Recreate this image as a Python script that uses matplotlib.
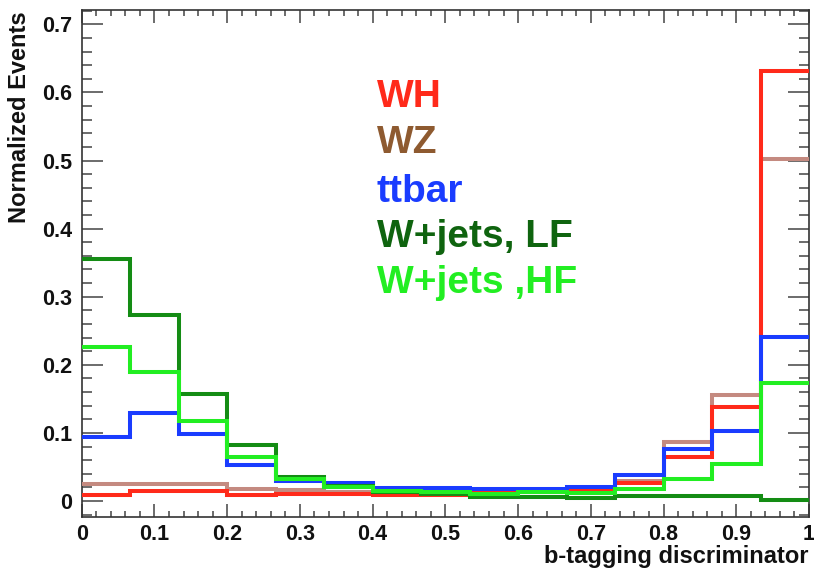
import numpy as np
import matplotlib
matplotlib.use("Agg")
import matplotlib.pyplot as plt
from matplotlib.ticker import MultipleLocator, FuncFormatter

# ---- data (15 bins of the b-tagging discriminator, 0..1) ----
bin_lo, bin_hi, n_bins = 0.0, 1.0, 15
edges = np.linspace(bin_lo, bin_hi, n_bins + 1)

wh = [0.009, 0.015, 0.015, 0.009, 0.010, 0.010, 0.009, 0.009, 0.013, 0.013,
      0.017, 0.027, 0.065, 0.138, 0.632]
wz = [0.025, 0.025, 0.025, 0.017, 0.016, 0.014, 0.012, 0.011, 0.012, 0.013,
      0.018, 0.030, 0.086, 0.156, 0.502]
ttbar = [0.094, 0.129, 0.099, 0.053, 0.030, 0.026, 0.019, 0.019, 0.017, 0.017,
         0.021, 0.038, 0.077, 0.103, 0.241]
wjets_lf = [0.356, 0.273, 0.157, 0.082, 0.035, 0.022, 0.014, 0.010, 0.006, 0.006,
            0.004, 0.008, 0.008, 0.007, 0.0015]
wjets_hf = [0.226, 0.189, 0.118, 0.065, 0.032, 0.020, 0.015, 0.014, 0.010, 0.013,
            0.012, 0.017, 0.032, 0.055, 0.174]

labels = ["WH", "WZ", "ttbar", "W+jets, LF", "W+jets ,HF"]
xlabel = "b-tagging discriminator"
ylabel = "Normalized Events"

# ---- style ----
line_colors = {"WH": "#ff2a1a", "WZ": "#c48a80", "ttbar": "#1a3cff",
               "W+jets, LF": "#148c14", "W+jets ,HF": "#22ee22"}
text_colors = {"WH": "#ff2a1a", "WZ": "#8e5a30", "ttbar": "#1a3cff",
               "W+jets, LF": "#0f640f", "W+jets ,HF": "#22ee22"}

plt.rcParams['font.family'] = ['Liberation Sans', 'DejaVu Sans']
plt.rcParams['font.weight'] = 'bold'

W, H = 814, 574
fig = plt.figure(figsize=(W / 100, H / 100), dpi=100)
ax = fig.add_axes([81.7 / W, 1 - 516.7 / H, (809 - 81.7) / W, (516.7 - 10) / H])

series = {"WZ": wz, "WH": wh, "ttbar": ttbar, "W+jets, LF": wjets_lf,
          "W+jets ,HF": wjets_hf}
for name in ["WZ", "WH", "ttbar", "W+jets, LF", "W+jets ,HF"]:
    ax.stairs(series[name], edges, color=line_colors[name], lw=2.9,
              baseline=None, zorder=3)

ax.set_xlim(0, 1)
ax.set_ylim(-0.023, 0.721)

ax.xaxis.set_major_locator(MultipleLocator(0.1))
ax.xaxis.set_minor_locator(MultipleLocator(0.02))
ax.yaxis.set_major_locator(MultipleLocator(0.1))
ax.yaxis.set_minor_locator(MultipleLocator(0.02))

def fmt(v, pos):
    if abs(v) < 1e-9:
        return "0"
    if abs(v - 1) < 1e-9:
        return "1"
    return f"{v:.1f}"
ax.xaxis.set_major_formatter(FuncFormatter(fmt))
ax.yaxis.set_major_formatter(FuncFormatter(fmt))

tc = "#444444"
ax.tick_params(axis='both', which='both', direction='in', top=True, right=True,
               color=tc, width=1.1, labelsize=15.5, labelcolor='#111111')
ax.tick_params(axis='y', which='major', length=15, pad=7)
ax.tick_params(axis='y', which='minor', length=7.5)
ax.tick_params(axis='x', which='major', length=9.5, pad=5)
ax.tick_params(axis='x', which='minor', length=4.5)
for lab in ax.get_xticklabels() + ax.get_yticklabels():
    lab.set_fontweight('bold')

for sp in ax.spines.values():
    sp.set_color("#333333")
    sp.set_linewidth(1.2)

fig.text(808 / W, 1 - 557 / H, xlabel, ha='right', va='center',
         fontsize=17, fontweight='bold', color='#111111')
fig.text(20 / W, 1 - 11 / H, ylabel, ha='center', va='top', rotation=90,
         fontsize=17, fontweight='bold', color='#111111')

baselines = [106.7, 153, 202, 247, 293]
for name, yb in zip(labels, baselines):
    fig.text(376.7 / W, 1 - yb / H, name, ha='left', va='baseline',
             fontsize=28, fontweight='bold', color=text_colors[name])

fig.savefig("out.png", dpi=100)
